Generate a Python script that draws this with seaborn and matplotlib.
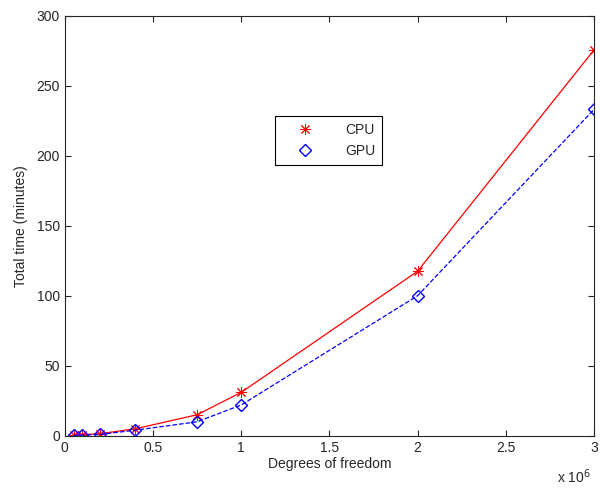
import numpy as np
import pandas as pd
import matplotlib
matplotlib.use('Agg')
import matplotlib.pyplot as plt
import seaborn as sns
from matplotlib.ticker import FuncFormatter

# degrees of freedom and run times (minutes)
dof = [50000, 100000, 200000, 400000, 750000, 1000000, 2000000, 3000000]
cpu_time = [0.4, 0.8, 1.5, 5, 15, 31, 117.5, 275.5]
gpu_time = [0.3, 0.5, 1.0, 4, 10, 22, 100, 233]

df = pd.DataFrame({'dof': dof, 'CPU': cpu_time, 'GPU': gpu_time})

sns.set_style('ticks')
plt.rcParams['font.family'] = ['Liberation Sans', 'DejaVu Sans']
plt.rcParams['font.size'] = 10

fig = plt.figure(figsize=(6, 4.88), dpi=100)
ax = fig.add_axes([0.108, 0.107, 0.882, 0.861])

# MATLAB-style asterisk (plus + cross) and open diamond
sns.lineplot(x='dof', y='CPU', data=df, ax=ax, color='#ff0000', linewidth=0.9,
             marker=(8, 2, 0), markersize=8, markeredgecolor='#ff0000',
             markeredgewidth=0.7, label='CPU')
sns.lineplot(x='dof', y='GPU', data=df, ax=ax, color='#0000ff', linewidth=0.9,
             linestyle='--', marker='D', markersize=6, markerfacecolor='none',
             markeredgecolor='#0000ff', markeredgewidth=1.0, label='GPU')

ax.set_xlim(0, 3e6)
ax.set_ylim(0, 300)
ax.set_xticks(np.arange(0, 3.01e6, 0.5e6))
ax.set_yticks(np.arange(0, 301, 50))
ax.xaxis.set_major_formatter(FuncFormatter(lambda v, p: f'{v / 1e6:g}'))
ax.tick_params(direction='in', top=True, right=True, length=4, width=0.8, labelsize=10)
for s in ax.spines.values():
    s.set_linewidth(0.8)

ax.set_xlabel('Degrees of freedom', fontsize=10, labelpad=2)
ax.set_ylabel('Total time (minutes)', fontsize=10, labelpad=6)
ax.text(0.93, -0.097, 'x 10$^6$', transform=ax.transAxes, fontsize=10, va='center')

# legend: marker only, no line sample
handles, labels = ax.get_legend_handles_labels()
leg = ax.legend(handles, labels, loc='upper left', bbox_to_anchor=(0.385, 0.777),
                fancybox=False, framealpha=1, edgecolor='black', handlelength=3.2,
                handletextpad=1.3, borderpad=0.5, fontsize=10)
for h in leg.legend_handles:
    h.set_linestyle('none')
leg.get_frame().set_linewidth(0.8)

fig.savefig('out.png', dpi=100)
